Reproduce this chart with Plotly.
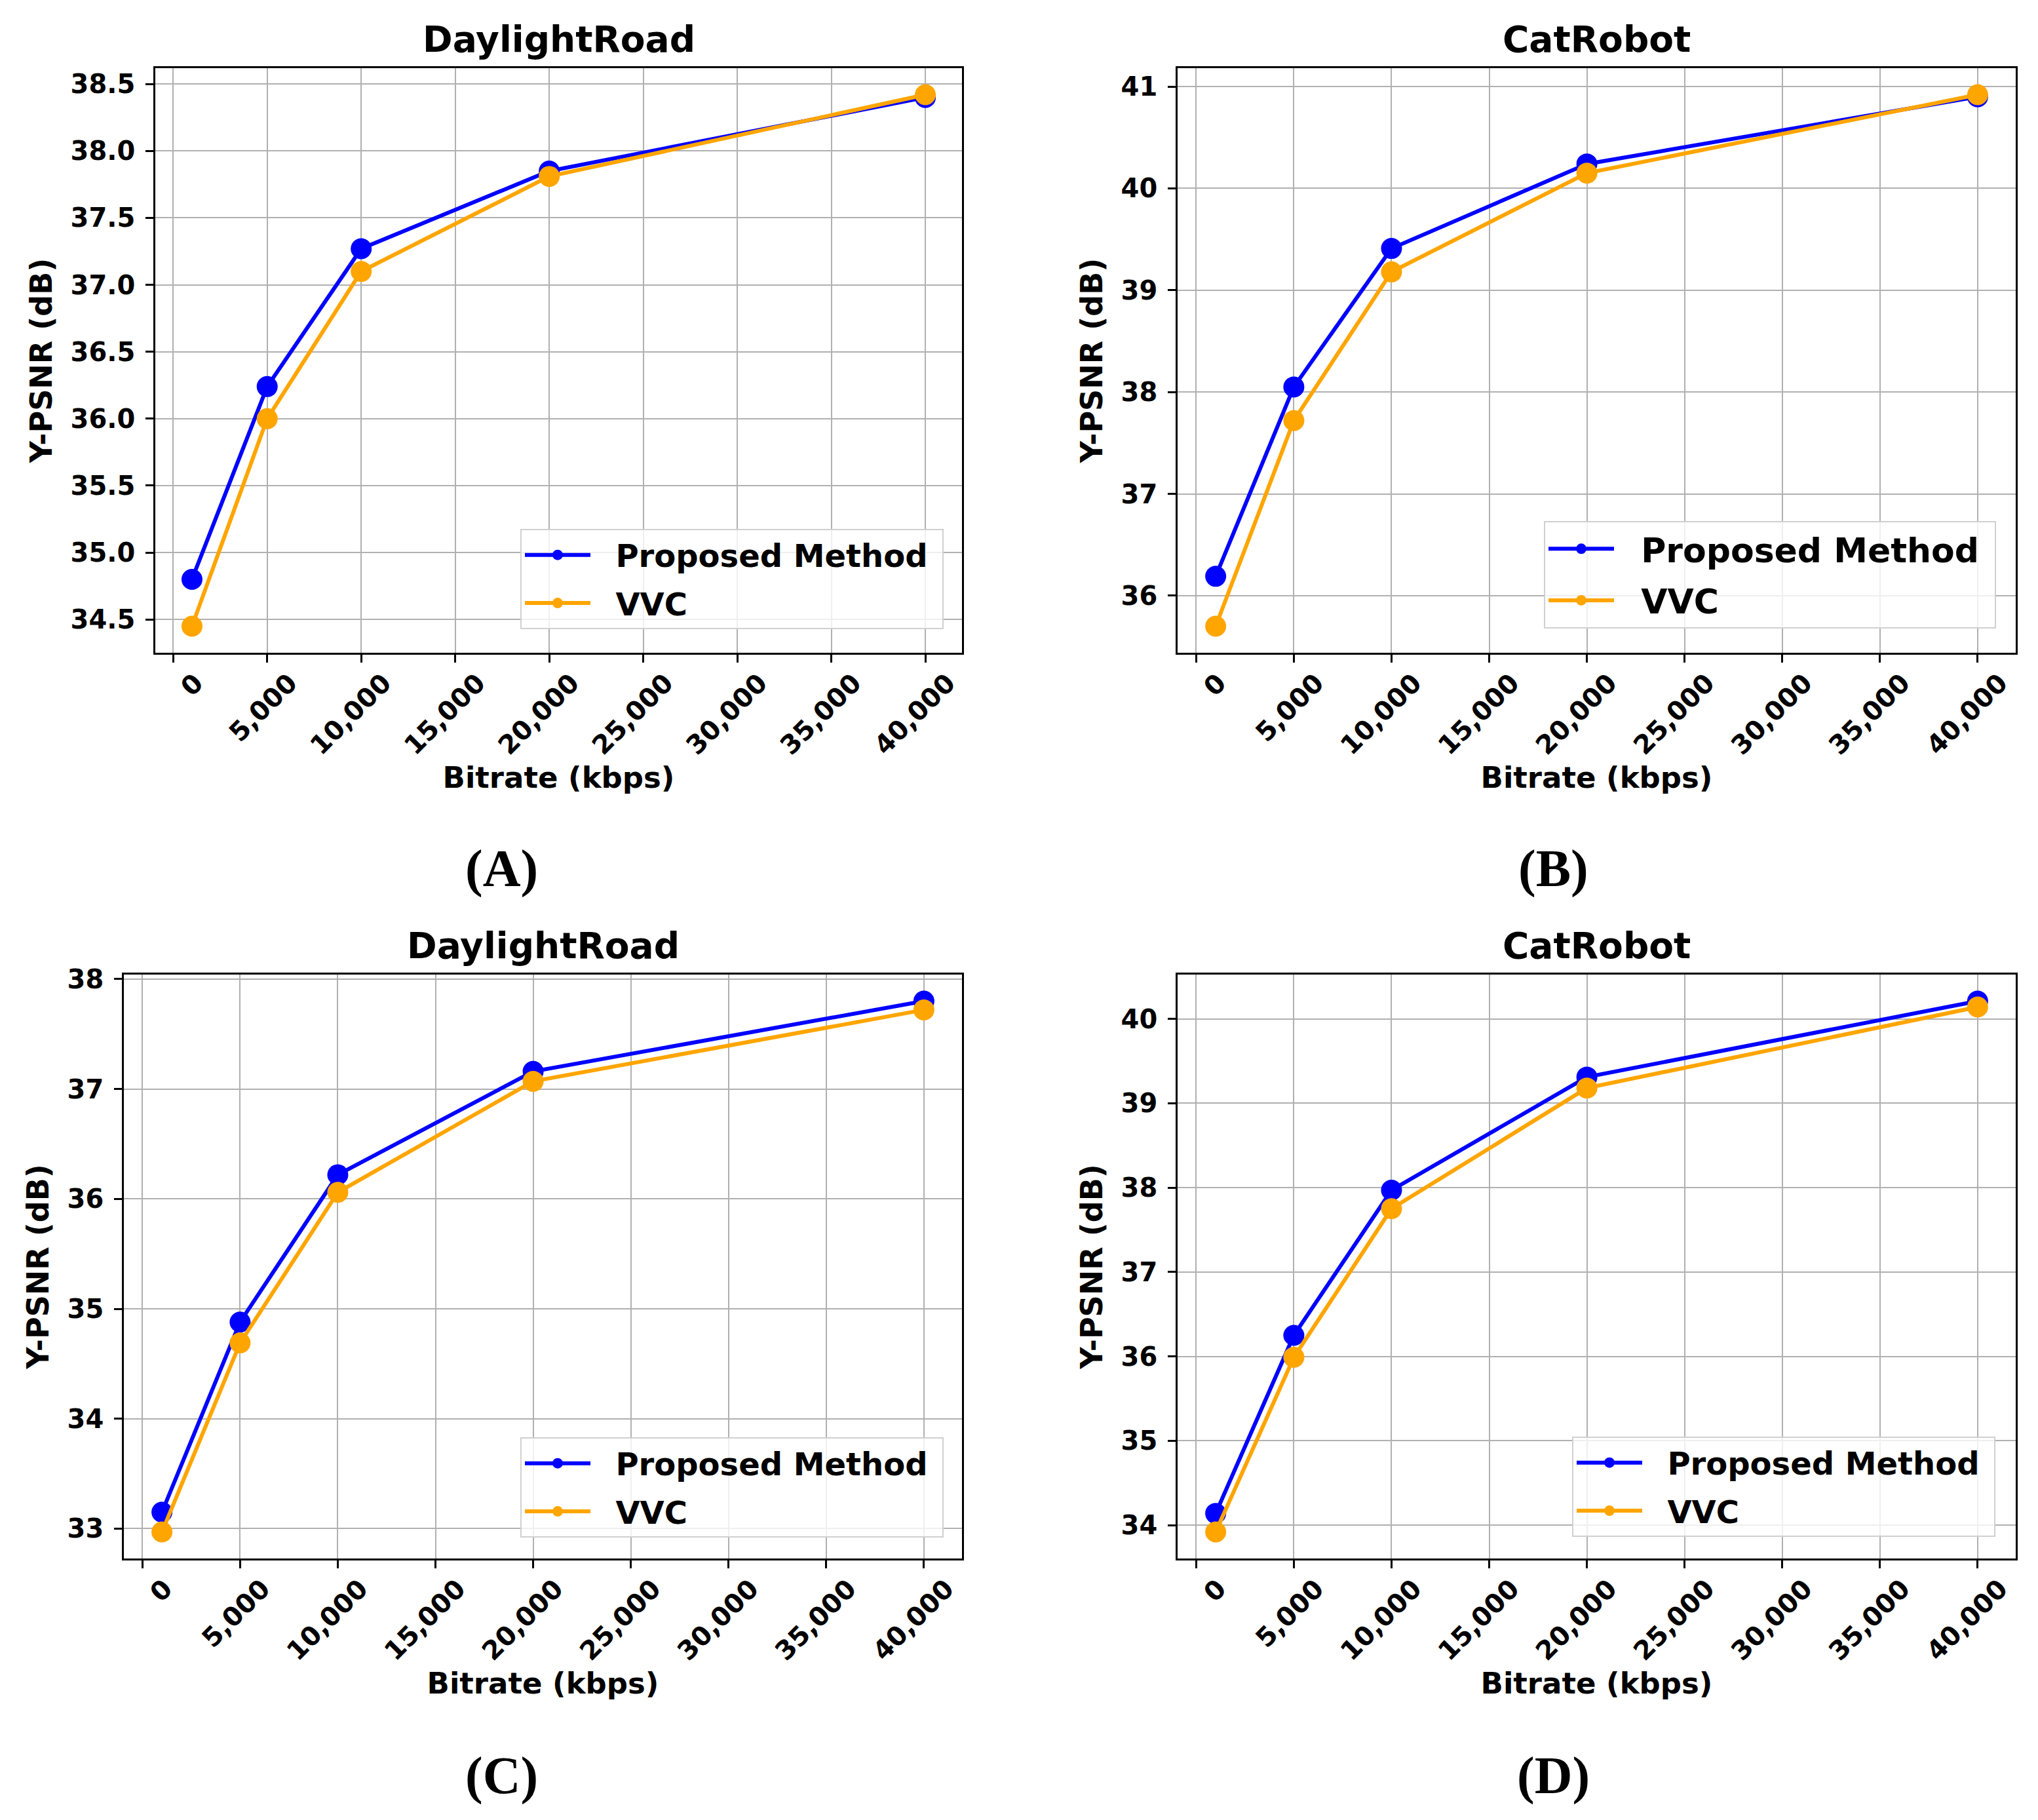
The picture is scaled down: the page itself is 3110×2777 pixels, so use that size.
import plotly.graph_objects as go

# bitrate points (kbps)
bitrate = [1000, 5000, 10000, 20000, 40000]

# Y-PSNR (dB)
a_proposed = [34.80, 36.24, 37.27, 37.85, 38.40]
a_vvc = [34.45, 36.00, 37.10, 37.81, 38.42]
b_proposed = [36.19, 38.05, 39.41, 40.24, 40.90]
b_vvc = [35.70, 37.72, 39.18, 40.15, 40.92]
c_proposed = [33.15, 34.88, 36.22, 37.16, 37.80]
c_vvc = [32.97, 34.69, 36.06, 37.07, 37.72]
d_proposed = [34.14, 36.25, 37.97, 39.31, 40.21]
d_vvc = [33.92, 35.99, 37.75, 39.18, 40.14]

titles = ["DaylightRoad", "CatRobot", "DaylightRoad", "CatRobot"]
panel_tags = ["(A)", "(B)", "(C)", "(D)"]
series_names = ["Proposed Method", "VVC"]
x_ticks = [0, 5000, 10000, 15000, 20000, 25000, 30000, 35000, 40000]

W, H = 3110, 2777
OFF = 8  # page body margin pushes the figure down/right
BLUE = "#0000ff"
ORANGE = "#ffa500"
SANS = "DejaVu Sans"
NB = "\u00a0"

# plot boxes in pixels: left, right, top, bottom
boxes = [(237, 1468, 104, 996), (1797, 3076, 104, 996),
         (189, 1468, 1487, 2378), (1797, 3076, 1487, 2378)]
y_steps = [0.5, 1, 1, 1]
y_formats = [".1f", "d", "d", "d"]
legend_font = [48, 52, 48, 48]
legend_pos = [(1440, 960), (3046, 959), (1440, 2346), (3045, 2345)]
tag_pos = [(765, 1325), (2370, 1325), (765, 2709), (2370, 2709)]

data = [(a_proposed, a_vvc), (b_proposed, b_vvc),
        (c_proposed, c_vvc), (d_proposed, d_vvc)]


def px(x):
    return (x - OFF) / W


def py(y):
    return 1 - (y - OFF) / H


fig = go.Figure()
layout = {}
annotations = []

for i, (prop, vvc) in enumerate(data):
    n = "" if i == 0 else str(i + 1)
    lg = "legend" + n
    for name, vals, col in [(series_names[0], prop, BLUE), (series_names[1], vvc, ORANGE)]:
        fig.add_trace(go.Scatter(
            x=bitrate, y=vals, name=NB * 2 + name + NB, mode="lines+markers",
            line=dict(color=col, width=6),
            marker=dict(color=col, size=32),
            xaxis="x" + n, yaxis="y" + n, legend=lg,
            legendgroup=name + n,
        ))

    l, r, t, b = boxes[i]
    allv = prop + vvc
    span = max(allv) - min(allv)
    xspan = bitrate[-1] - bitrate[0]
    layout["xaxis" + n] = dict(
        domain=[px(l), px(r)], anchor="y" + n, automargin=False,
        range=[bitrate[0] - 0.05 * xspan, bitrate[-1] + 0.05 * xspan],
        tickvals=x_ticks, tickformat=",d", tickangle=-45,
        ticklabelshift=34, ticklabelstandoff=-8,
        ticks="outside", ticklen=12, tickwidth=2.5, tickcolor="black",
        showline=True, linecolor="black", linewidth=2.5, mirror=True,
        showgrid=True, gridcolor="#b0b0b0", gridwidth=2, zeroline=False,
        tickfont=dict(family=SANS, size=40, color="black", weight="bold"),
        title=dict(text="Bitrate (kbps)", standoff=12,
                   font=dict(family=SANS, size=45, color="black", weight="bold")),
    )
    layout["yaxis" + n] = dict(
        domain=[py(b), py(t)], anchor="x" + n, automargin=False,
        range=[min(allv) - 0.05 * span, max(allv) + 0.05 * span],
        dtick=y_steps[i], tickformat=y_formats[i],
        ticklabelstandoff=8,
        ticks="outside", ticklen=12, tickwidth=2.5, tickcolor="black",
        showline=True, linecolor="black", linewidth=2.5, mirror=True,
        showgrid=True, gridcolor="#b0b0b0", gridwidth=2, zeroline=False,
        tickfont=dict(family=SANS, size=40, color="black", weight="bold"),
        title=dict(text="Y-PSNR (dB)", standoff=14,
                   font=dict(family=SANS, size=46, color="black", weight="bold")),
    )
    lx, ly = legend_pos[i]
    layout[lg] = dict(
        x=px(lx), y=py(ly), xanchor="right", yanchor="bottom",
        bgcolor="rgba(255,255,255,0.8)", bordercolor="#d0d0d0", borderwidth=2,
        font=dict(family=SANS, size=legend_font[i], color="black", weight="bold"),
        itemwidth=100, tracegroupgap=8,
    )
    annotations.append(dict(
        text=titles[i], xref="paper", yref="paper",
        x=px((l + r) / 2), y=py(t - 10), xanchor="center", yanchor="bottom",
        showarrow=False, font=dict(family=SANS, size=55, color="black", weight="bold"),
    ))
    tx, ty = tag_pos[i]
    annotations.append(dict(
        text=panel_tags[i], xref="paper", yref="paper",
        x=px(tx), y=py(ty), xanchor="center", yanchor="middle",
        showarrow=False, font=dict(family="Liberation Serif", size=80, color="black", weight="bold"),
    ))

fig.update_layout(
    width=W, height=H, margin=dict(l=0, r=0, t=0, b=0),
    paper_bgcolor="white", plot_bgcolor="white",
    annotations=annotations, **layout,
)

fig.write_html("out.html")
